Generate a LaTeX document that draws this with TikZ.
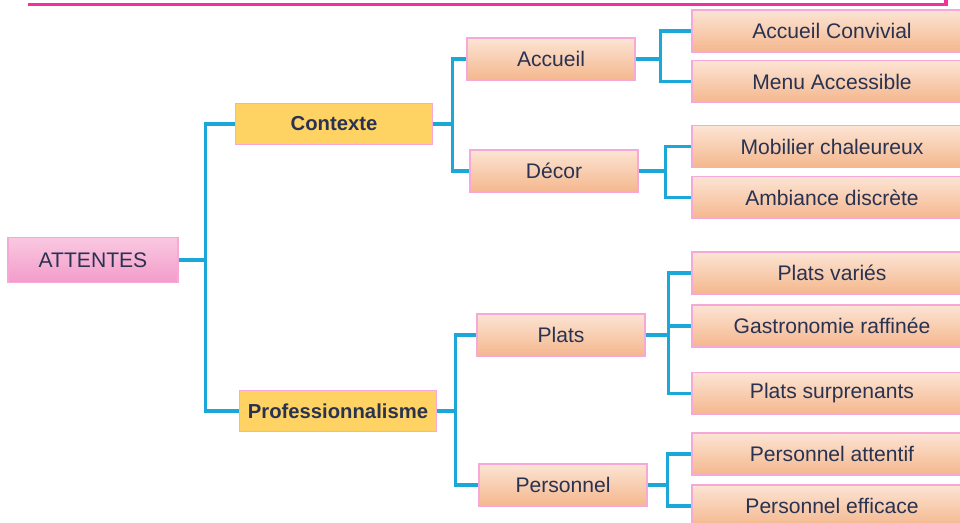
\documentclass[tikz,border=0pt]{standalone}
\usepackage{fontspec}
\setmainfont{Liberation Sans}
\usetikzlibrary{positioning}

\definecolor{linkblue}{HTML}{1BA8D8}
\definecolor{boxpink}{HTML}{F6A8D6}
\definecolor{toppink}{HTML}{F0329A}
\definecolor{txtnavy}{HTML}{293250}
\definecolor{peachtop}{HTML}{FCE4D4}
\definecolor{peachbot}{HTML}{F4B78D}
\definecolor{rosetop}{HTML}{FAC8E1}
\definecolor{rosebot}{HTML}{F39CC9}
\definecolor{ctxyellow}{HTML}{FFD264}

\begin{document}
\begin{tikzpicture}[x=0.025cm, y=-0.025cm,
    base/.style={draw=boxpink, line width=1.2pt, text=txtnavy, inner sep=0pt,
        minimum height=1.05cm, font=\fontsize{15}{17}\selectfont},
    peach/.style={base, top color=peachtop, bottom color=peachbot},
    leaf/.style={peach, minimum width=7cm},
    mid/.style={peach, minimum width=4.2cm},
    main/.style={base, fill=ctxyellow, minimum width=4.93cm, minimum height=1.03cm,
        font=\bfseries\fontsize{14.4}{17}\selectfont},
    root/.style={base, top color=rosetop, bottom color=rosebot, minimum width=4.25cm,
        minimum height=1.13cm},
    link/.style={draw=linkblue, line width=2.2pt}]

        \useasboundingbox (0,0) rectangle (960,523);
        \clip (0,0) rectangle (960,523);

        % cut-off frame at the top
        \draw[toppink, line width=2.6pt] (28,4.5) -- (946,4.5) -- (946,0);

        \node[root] (att) at (93,260) {ATTENTES};

        \node[main] (ctx) at (334,124) {Contexte};
        \node[main] (pro) at (338,411) {Professionnalisme};

        \node[mid] (acc) at (551,59) {Accueil};
        \node[mid] (dec) at (554,171) {Décor};
        \node[mid] (pla) at (561,335) {Plats};
        \node[mid] (per) at (563,485) {Personnel};

        % right column runs off the page
        \node[leaf] (acc1) at (832,31) {Accueil Convivial};
        \node[leaf] (acc2) at (832,81.5) {Menu Accessible};
        \node[leaf] (dec1) at (832,146.5) {Mobilier chaleureux};
        \node[leaf] (dec2) at (832,197.5) {Ambiance discrète};
        \node[leaf] (pla1) at (832,273) {Plats variés};
        \node[leaf] (pla2) at (832,326) {Gastronomie raffinée};
        \node[leaf] (pla3) at (832,393.5) {Plats surprenants};
        \node[leaf] (per1) at (832,454) {Personnel attentif};
        \node[leaf] (per2) at (832,506) {Personnel efficace};

        % branches
        \foreach \kid in {ctx,pro}
            \draw[link] (att.east) -- ++(27,0) |- (\kid.west);
        \foreach \kid in {acc,dec}
            \draw[link] (ctx.east) -- ++(19,0) |- (\kid.west);
        \foreach \kid in {pla,per}
            \draw[link] (pro.east) -- ++(18,0) |- (\kid.west);
        \foreach \kid in {acc1,acc2}
            \draw[link] (acc.east) -- ++(25,0) |- (\kid.west);
        \foreach \kid in {dec1,dec2}
            \draw[link] (dec.east) -- ++(27,0) |- (\kid.west);
        \foreach \kid in {pla1,pla2,pla3}
            \draw[link] (pla.east) -- ++(23,0) |- (\kid.west);
        \foreach \kid in {per1,per2}
            \draw[link] (per.east) -- ++(20,0) |- (\kid.west);

\end{tikzpicture}
\end{document}
